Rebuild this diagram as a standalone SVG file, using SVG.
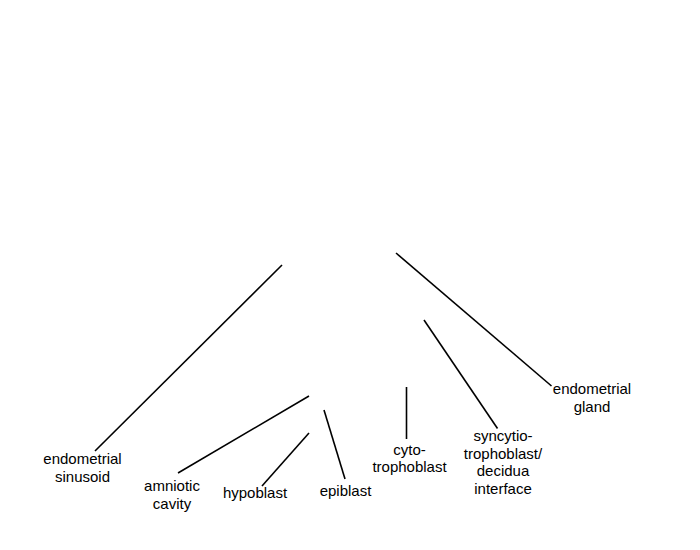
<svg xmlns="http://www.w3.org/2000/svg" width="700" height="550" viewBox="0 0 700 550">
<style>
.lbl{font-family:"Liberation Sans",Arial,sans-serif;font-size:15px;fill:#000;text-anchor:middle}
.ln{stroke:#000;stroke-width:1.6;fill:none}
</style>
<rect width="700" height="550" fill="#fff"/>
<g id="connectors">
<line class="ln" x1="282" y1="265" x2="95" y2="451"/>
<line class="ln" x1="309" y1="396" x2="178" y2="473"/>
<line class="ln" x1="309" y1="433" x2="262" y2="486"/>
<line class="ln" x1="324" y1="410" x2="345" y2="479"/>
<line class="ln" x1="406.5" y1="387" x2="406.5" y2="439"/>
<line class="ln" x1="424" y1="320" x2="497.5" y2="428.5"/>
<line class="ln" x1="396" y1="253" x2="551.5" y2="386"/>
</g>
<g id="endometrial-sinusoid"><text class="lbl" x="82.5" y="464">endometrial</text><text class="lbl" x="82.5" y="481.5">sinusoid</text></g>
<g id="amniotic-cavity"><text class="lbl" x="172" y="491">amniotic</text><text class="lbl" x="172" y="508.5">cavity</text></g>
<g id="hypoblast"><text class="lbl" x="255" y="497.5">hypoblast</text></g>
<g id="epiblast"><text class="lbl" x="345.5" y="495.5">epiblast</text></g>
<g id="cytotrophoblast"><text class="lbl" x="409.5" y="455">cyto-</text><text class="lbl" x="409.5" y="472">trophoblast</text></g>
<g id="syncytiotrophoblast"><text class="lbl" x="503" y="441">syncytio-</text><text class="lbl" x="503" y="458.5">trophoblast/</text><text class="lbl" x="503" y="476">decidua</text><text class="lbl" x="503" y="493.5">interface</text></g>
<g id="endometrial-gland"><text class="lbl" x="592" y="394">endometrial</text><text class="lbl" x="592" y="411.5">gland</text></g>
</svg>
